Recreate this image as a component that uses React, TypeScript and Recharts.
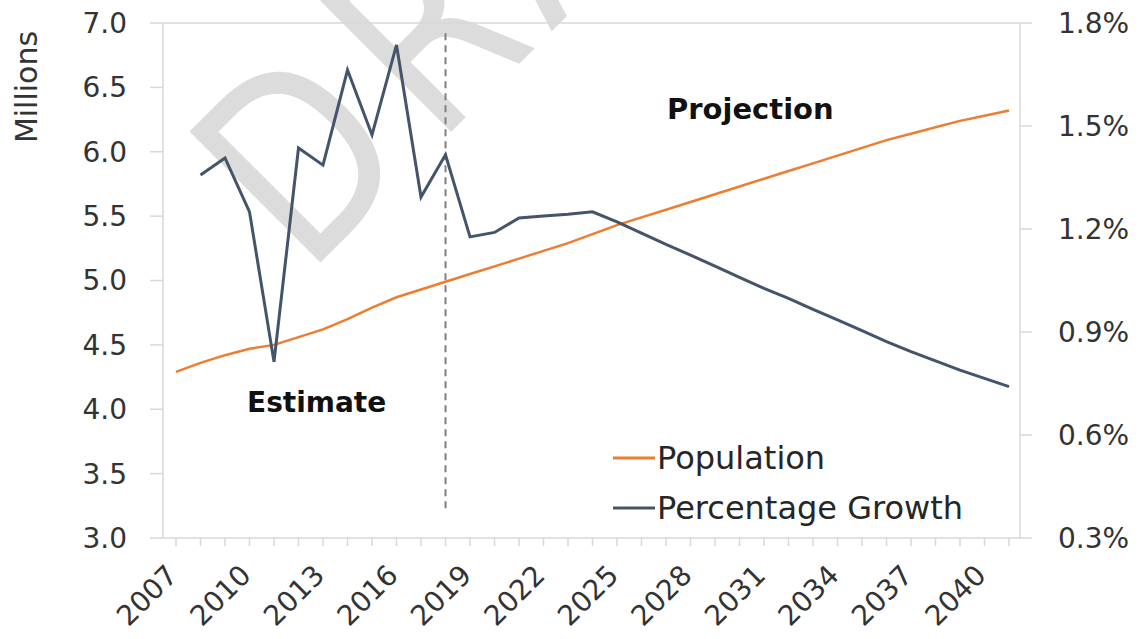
import { LineChart, Line, XAxis, YAxis, ReferenceLine, Legend, Customized } from 'recharts';

const years = [
  2007, 2008, 2009, 2010, 2011, 2012, 2013, 2014, 2015, 2016, 2017, 2018,
  2019, 2020, 2021, 2022, 2023, 2024, 2025, 2026, 2027, 2028, 2029, 2030,
  2031, 2032, 2033, 2034, 2035, 2036, 2037, 2038, 2039, 2040, 2041,
];

// millions
const population = [
  4.29, 4.36, 4.42, 4.47, 4.5, 4.56, 4.62, 4.7, 4.79, 4.87, 4.93, 4.99,
  5.05, 5.11, 5.17, 5.23, 5.29, 5.36, 5.43, 5.49, 5.55, 5.61, 5.67, 5.73,
  5.79, 5.85, 5.91, 5.97, 6.03, 6.09, 6.14, 6.19, 6.24, 6.28, 6.32,
];

// percent per year
const growth = [
  null, 1.357, 1.407, 1.25, 0.813, 1.436, 1.386, 1.663, 1.474, 1.736, 1.293, 1.416,
  1.177, 1.19, 1.232, 1.238, 1.243, 1.25, 1.221, 1.188, 1.155, 1.124, 1.092, 1.059,
  1.027, 0.998, 0.966, 0.935, 0.904, 0.872, 0.843, 0.816, 0.789, 0.765, 0.741,
];

const leftTicks = [3, 3.5, 4, 4.5, 5, 5.5, 6, 6.5, 7];
const rightTicks = [0.3, 0.6, 0.9, 1.2, 1.5, 1.8];
const seriesOrder = ['Population', 'Percentage Growth'];
const splitYear = 2018;

const FONT = 'DejaVu Sans';
const ORANGE = '#ed7d31';
const SLATE = '#44546a';
const AXIS = '#d9d9d9';

const chartData = years.map((year, i) => ({
  year,
  population: population[i],
  growth: growth[i],
}));

const YearTick = (props: any) => {
  const { x, y, payload } = props;
  const year = payload.value;
  if ((year - 2007) % 3 !== 0) return null;
  const tx = x + 3;
  const ty = y + 31;
  return (
    <text
      x={tx}
      y={ty}
      transform={`rotate(-45, ${tx}, ${ty})`}
      textAnchor="end"
      fontSize={28}
      fontFamily={FONT}
      fill="#333"
    >
      {year}
    </text>
  );
};

// faint "DRAFT" stamp behind the plot, squeezed to look like the original face
const Watermark = () => (
  <text
    x={0}
    y={0}
    transform="translate(306, 277) rotate(-45) scale(0.82, 1)"
    fontSize={254}
    fontFamily={FONT}
    letterSpacing={30}
    fill="#dcdcdc"
  >
    DRAFT
  </text>
);

const Notes = () => (
  <g fontFamily={FONT}>
    <text x={37} y={87} transform="rotate(-90, 37, 87)" textAnchor="middle" fontSize={30} fill="#333">
      Millions
    </text>
    <text x={667} y={119} fontSize={29} fontWeight="bold" fill="#111">
      Projection
    </text>
    <text x={247} y={412} fontSize={28} fontWeight="bold" fill="#111">
      Estimate
    </text>
  </g>
);

const renderLegend = (props: any) => {
  const payload = [...(props.payload || [])].sort(
    (a: any, b: any) => seriesOrder.indexOf(a.value) - seriesOrder.indexOf(b.value)
  );
  return (
    <div style={{ fontFamily: FONT, fontSize: 32, color: '#262626' }}>
      {payload.map((entry: any) => (
        <div key={entry.value} style={{ display: 'flex', alignItems: 'center', height: 50 }}>
          <svg width={44} height={6} style={{ display: 'block' }}>
            <line x1={0} y1={3} x2={42} y2={3} stroke={entry.color} strokeWidth={3} />
          </svg>
          <span style={{ whiteSpace: 'nowrap' }}>{entry.value}</span>
        </div>
      ))}
    </div>
  );
};

export default function App() {
  return (
    <div style={{ position: 'absolute', left: 0, top: 0, background: '#fff' }}>
      <LineChart
        width={1144}
        height={639}
        data={chartData}
        margin={{ top: 23, right: 0, bottom: 0, left: 0 }}
        style={{ fontFamily: FONT }}
      >
        <Customized component={Watermark} />
        <XAxis
          dataKey="year"
          type="category"
          interval={0}
          height={101}
          padding={{ left: 13, right: 11 }}
          stroke={AXIS}
          strokeWidth={1.5}
          tickSize={8}
          tickMargin={0}
          tick={<YearTick />}
        />
        <YAxis
          yAxisId="left"
          orientation="left"
          width={163}
          domain={[3, 7]}
          ticks={leftTicks}
          tickFormatter={(v: number) => v.toFixed(1)}
          stroke={AXIS}
          strokeWidth={1.5}
          tickSize={13}
          tickMargin={23}
          tick={{ fontSize: 28, fill: '#333', fontFamily: FONT }}
        />
        <YAxis
          yAxisId="right"
          orientation="right"
          width={124}
          domain={[0.3, 1.8]}
          ticks={rightTicks}
          tickFormatter={(v: number) => v.toFixed(1) + '%'}
          stroke={AXIS}
          strokeWidth={1.5}
          tickSize={12}
          tickMargin={26}
          tick={{ fontSize: 28, fill: '#333', fontFamily: FONT, textAnchor: 'start' }}
        />
        <ReferenceLine yAxisId="left" y={7} stroke={AXIS} strokeWidth={1.5} />
        <ReferenceLine
          yAxisId="left"
          segment={[
            { x: splitYear, y: 6.92 },
            { x: splitYear, y: 3.2 },
          ]}
          stroke="#808080"
          strokeWidth={2}
          strokeDasharray="7 5"
        />
        <Line
          yAxisId="left"
          dataKey="population"
          name="Population"
          stroke={ORANGE}
          strokeWidth={2.5}
          dot={false}
          activeDot={false}
          type="linear"
          isAnimationActive={false}
        />
        <Line
          yAxisId="right"
          dataKey="growth"
          name="Percentage Growth"
          stroke={SLATE}
          strokeWidth={3}
          dot={false}
          activeDot={false}
          type="linear"
          isAnimationActive={false}
        />
        <Customized component={Notes} />
        <Legend
          layout="vertical"
          align="center"
          verticalAlign="middle"
          content={renderLegend}
          wrapperStyle={{ left: 613, top: 433, width: 'auto', height: 'auto', right: 'auto', bottom: 'auto' }}
        />
      </LineChart>
    </div>
  );
}
